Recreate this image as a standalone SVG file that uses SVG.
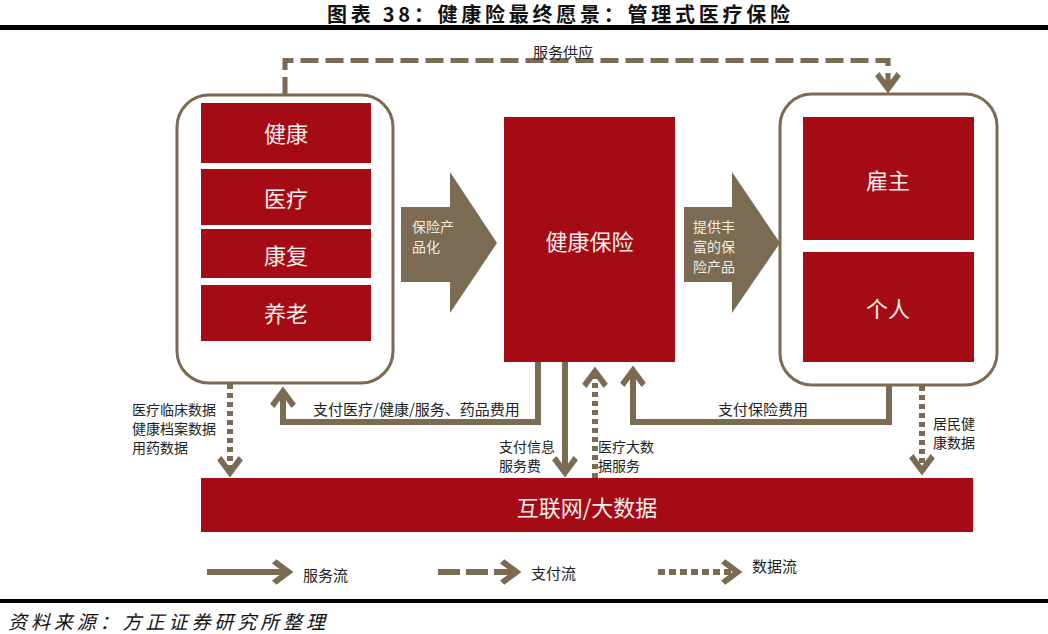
<svg xmlns="http://www.w3.org/2000/svg" width="1048" height="634" viewBox="0 0 1048 634">
<style>
.t{font-family:"Noto Sans CJK SC","Liberation Sans",sans-serif;dominant-baseline:central}
.box{fill:#a50b14}
.bt{fill:#fbefef;font-size:22px;text-anchor:middle}
.at{fill:#f4ede2;font-size:14px}
.lbl{fill:#222;font-size:15px}
.ml{font-size:14px}
.panel{fill:#fff;stroke:#7b6b52;stroke-width:3}
.solid{fill:none;stroke:#7b6b52;stroke-width:6}
.dash{fill:none;stroke:#7b6b52;stroke-width:5;stroke-dasharray:18 7}
.dot{fill:none;stroke:#7b6b52;stroke-width:6;stroke-dasharray:5 4}
</style>
<defs>
<marker id="ah" markerUnits="userSpaceOnUse" orient="auto" refX="-6" refY="0" markerWidth="30" markerHeight="30" viewBox="-22 -14 24 28" overflow="visible">
<polygon points="0,0 -16,-12 -20,-8 -9,0 -20,8 -16,12" fill="#7b6b52"/>
</marker>
</defs>
<rect width="1048" height="634" fill="#fff"/>
<g id="title">
<text class="t" x="327" y="13.5" font-size="20" font-weight="700" fill="#111" textLength="463" lengthAdjust="spacing">图表 38：健康险最终愿景：管理式医疗保险</text>
<rect x="0" y="25" width="1048" height="5" fill="#000"/>
</g>
<g id="left-panel">
<rect class="panel" x="177" y="95" width="216" height="288" rx="32"/>
<rect class="box" x="201" y="103" width="170" height="60"/>
<text class="t bt" x="286" y="132">健康</text>
<rect class="box" x="201" y="169" width="170" height="56"/>
<text class="t bt" x="286" y="197">医疗</text>
<rect class="box" x="201" y="229" width="170" height="49"/>
<text class="t bt" x="286" y="254">康复</text>
<rect class="box" x="201" y="285" width="170" height="56"/>
<text class="t bt" x="286" y="312">养老</text>
</g>
<g id="arrow-left">
<polygon points="401,207 450,207 450,172 497,243 450,313 450,282 401,282" fill="#7b6b52"/>
<text class="t at" x="412" y="226">保险产</text>
<text class="t at" x="412" y="246">品化</text>
</g>
<g id="health-insurance">
<rect class="box" x="504" y="117" width="171" height="245"/>
<text class="t bt" x="589.5" y="240" font-size="23">健康保险</text>
</g>
<g id="arrow-right">
<polygon points="684,207 732,207 732,172 780,243 732,313 732,282 684,282" fill="#7b6b52"/>
<text class="t at" x="693" y="226">提供丰</text>
<text class="t at" x="693" y="246">富的保</text>
<text class="t at" x="693" y="266">险产品</text>
</g>
<g id="right-panel">
<rect class="panel" x="780" y="94" width="217" height="291" rx="32"/>
<rect class="box" x="803" y="117" width="171" height="123"/>
<text class="t bt" x="888" y="179">雇主</text>
<rect class="box" x="803" y="252" width="171" height="110"/>
<text class="t bt" x="888" y="307">个人</text>
</g>
<g id="internet-bigdata">
<rect class="box" x="201" y="478" width="772" height="54"/>
<text class="t bt" x="587" y="506">互联网/大数据</text>
</g>
<g id="connectors">
<path class="dash" d="M285,95 V60.5 H888 V87" marker-end="url(#ah)"/>
<path class="dot" d="M230,384 V471" marker-end="url(#ah)"/>
<path class="solid" d="M538,362 V422 H283 V393" marker-end="url(#ah)"/>
<path class="solid" d="M565,362 V471" marker-end="url(#ah)"/>
<path class="dot" d="M595,478 V373" marker-end="url(#ah)"/>
<path class="solid" d="M889,385 V422 H633 V372" marker-end="url(#ah)"/>
<path class="dot" d="M922,386 V469" marker-end="url(#ah)"/>
</g>
<g id="labels">
<text class="t lbl" x="563" y="51" text-anchor="middle">服务供应</text>
<text class="t lbl ml" x="132" y="409">医疗临床数据</text>
<text class="t lbl ml" x="132" y="428">健康档案数据</text>
<text class="t lbl ml" x="132" y="447">用药数据</text>
<text class="t lbl" x="313" y="408">支付医疗/健康/服务、药品费用</text>
<text class="t lbl ml" x="499" y="446">支付信息</text>
<text class="t lbl ml" x="499" y="465">服务费</text>
<text class="t lbl ml" x="598" y="446">医疗大数</text>
<text class="t lbl ml" x="598" y="465">据服务</text>
<text class="t lbl" x="718" y="408">支付保险费用</text>
<text class="t lbl ml" x="933" y="423">居民健</text>
<text class="t lbl ml" x="933" y="442">康数据</text>
</g>
<g id="legend">
<path class="solid" d="M207,572 H287" marker-end="url(#ah)"/>
<text class="t lbl" x="303" y="574" font-size="14">服务流</text>
<path class="dash" d="M438,572 H515" style="stroke-dasharray:22 6;stroke-width:6" marker-end="url(#ah)"/>
<text class="t lbl" x="531" y="572" font-size="14">支付流</text>
<path class="dot" d="M658,572 H736" style="stroke-dasharray:7 4" marker-end="url(#ah)"/>
<text class="t lbl" x="752" y="565" font-size="14">数据流</text>
</g>
<g id="footer">
<rect x="0" y="599" width="1048" height="4" fill="#000"/>
<text class="t" x="8" y="620" font-size="19" font-style="italic" fill="#111" textLength="317" lengthAdjust="spacing">资料来源：方正证券研究所整理</text>
</g>
</svg>
